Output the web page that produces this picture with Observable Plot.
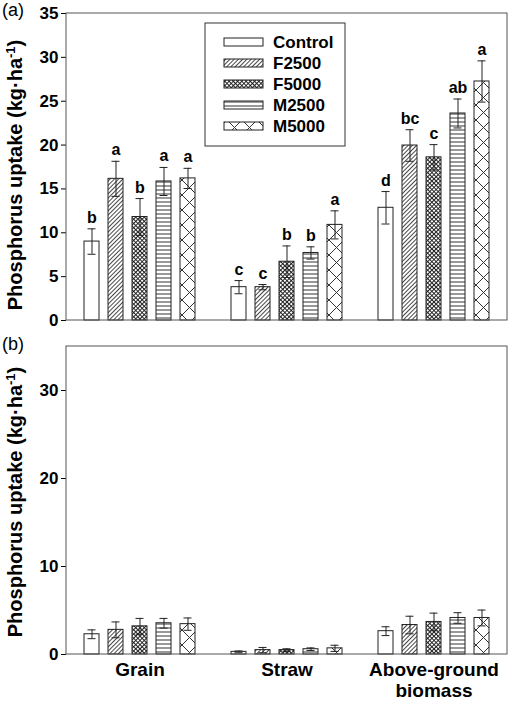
<!DOCTYPE html>
<html><head><meta charset="utf-8">
<script src="https://cdn.jsdelivr.net/npm/d3@7"></script>
<script src="https://cdn.jsdelivr.net/npm/@observablehq/plot@0.6"></script>
<style>
html,body{margin:0;padding:0;background:#fff;}
#chart{position:relative;width:510px;height:701px;}
#chart svg{display:block;}
</style></head><body>
<svg id="defs" width="0" height="0" style="position:absolute">
<defs>
<pattern id="pat-Control" patternUnits="userSpaceOnUse" width="4" height="4"><rect width="4" height="4" fill="#fff"/></pattern>
<pattern id="pat-F2500" patternUnits="userSpaceOnUse" width="3" height="3" patternTransform="rotate(45)"><rect width="3" height="3" fill="#fff"/><line x1="0.5" y1="0" x2="0.5" y2="3" stroke="#333" stroke-width="0.9"/></pattern>
<pattern id="pat-F5000" patternUnits="userSpaceOnUse" width="3" height="3" patternTransform="rotate(45)"><rect width="3" height="3" fill="#fff"/><line x1="0.5" y1="0" x2="0.5" y2="3" stroke="#222" stroke-width="1"/><line x1="0" y1="0.5" x2="3" y2="0.5" stroke="#222" stroke-width="1"/></pattern>
<pattern id="pat-M2500" patternUnits="userSpaceOnUse" width="4" height="4"><rect width="4" height="4" fill="#fff"/><line x1="0" y1="2" x2="4" y2="2" stroke="#333" stroke-width="1"/></pattern>
<pattern id="pat-M5000" patternUnits="userSpaceOnUse" width="15" height="15" x="2"><rect width="15" height="15" fill="#fff"/><line x1="0" y1="0" x2="15" y2="15" stroke="#333" stroke-width="1"/><line x1="15" y1="0" x2="0" y2="15" stroke="#333" stroke-width="1"/></pattern>
</defs></svg>
<div id="chart"></div>
<script>
// ---- data ----
const groups = ["Grain", "Straw", "Above-ground biomass"];
const groupLabels = ["Grain", "Straw", "Above-ground\nbiomass"];
const treatments = ["Control", "F2500", "F5000", "M2500", "M5000"];

// Panel (a)
const grainA = [9.0, 16.15, 11.8, 15.85, 16.2];
const grainAErr = [1.45, 2.0, 2.1, 1.6, 1.15];
const grainALetters = ["b", "a", "b", "a", "a"];
const strawA = [3.8, 3.8, 6.7, 7.7, 10.9];
const strawAErr = [0.75, 0.3, 1.8, 0.7, 1.6];
const strawALetters = ["c", "c", "b", "b", "a"];
const biomassA = [12.85, 19.95, 18.6, 23.6, 27.25];
const biomassAErr = [1.85, 1.8, 1.45, 1.65, 2.35];
const biomassALetters = ["d", "bc", "c", "ab", "a"];

// Panel (b)
const grainB = [2.3, 2.8, 3.2, 3.55, 3.45];
const grainBErr = [0.5, 0.9, 0.9, 0.55, 0.7];
const strawB = [0.3, 0.5, 0.5, 0.6, 0.7];
const strawBErr = [0.1, 0.3, 0.15, 0.15, 0.35];
const biomassB = [2.65, 3.35, 3.7, 4.15, 4.15];
const biomassBErr = [0.5, 1.0, 1.0, 0.6, 0.9];

const yTicksA = [0, 5, 10, 15, 20, 25, 30, 35];
const yTicksB = [0, 10, 20, 30];
const yDomain = [0, 35];
const yTitle = "Phosphorus uptake (kg·ha";
const yTitleSup = "-1";

// ---- build tables ----
function rows(group, values, errs, letters) {
  return treatments.map((t, i) => ({group, treatment: t, value: values[i], err: errs[i], letter: letters ? letters[i] : ""}));
}
const dataA = [
  ...rows(groups[0], grainA, grainAErr, grainALetters),
  ...rows(groups[1], strawA, strawAErr, strawALetters),
  ...rows(groups[2], biomassA, biomassAErr, biomassALetters)
];
const dataB = [
  ...rows(groups[0], grainB, grainBErr),
  ...rows(groups[1], strawB, strawBErr),
  ...rows(groups[2], biomassB, biomassBErr)
];

const FONT = "'Liberation Sans', Arial, Helvetica, sans-serif";
const ML = 66, MR = 3, W = 510;

function panel({data, ticks, height, marginTop, marginBottom, showFx, showLetters}) {
  const marks = [
    Plot.barY(data, {fx: "group", x: "treatment", y: "value", fill: "treatment", stroke: "#222", strokeWidth: 1}),
    Plot.ruleX(data, {fx: "group", x: "treatment", y1: d => d.value - d.err, y2: d => d.value + d.err, stroke: "#222", strokeWidth: 1}),
    Plot.tickY(data, {fx: "group", x: "treatment", y: d => d.value + d.err, insetLeft: 3.5, insetRight: 3.5, stroke: "#222", strokeWidth: 1}),
    Plot.tickY(data, {fx: "group", x: "treatment", y: d => d.value - d.err, insetLeft: 3.5, insetRight: 3.5, stroke: "#222", strokeWidth: 1})
  ];
  if (showLetters) {
    marks.push(Plot.text(data, {fx: "group", x: "treatment", y: d => d.value + d.err, text: "letter", dy: -6, lineAnchor: "bottom", fontSize: 16, fontWeight: "bold", fill: "#000"}));
  }
  if (showFx) {
    marks.push(Plot.axisFx({anchor: "bottom", tickSize: 0, tickPadding: 7, fontSize: 19, fontWeight: "bold", lineHeight: 1.08, label: null,
      tickFormat: g => groupLabels[groups.indexOf(g)]}));
  }
  return Plot.plot({
    width: W, height, marginLeft: ML, marginRight: MR, marginTop, marginBottom,
    style: {fontFamily: FONT, fontWeight: "bold", fontSize: "17px", color: "#000", background: "transparent", overflow: "visible"},
    fx: {domain: groups, padding: 0, label: null, axis: null},
    x: {domain: treatments, paddingInner: 0.39, paddingOuter: 0.695, axis: null},
    y: {domain: yDomain, ticks, tickSize: 5, tickPadding: 3, label: null},
    color: {domain: treatments, range: treatments.map(t => `url(#pat-${t})`)},
    marks
  });
}

function decorate(svgNode, {height, marginTop, marginBottom, tag, tagY, titleY}) {
  const svg = d3.select(svgNode);
  svg.append("rect")
    .attr("x", ML).attr("y", marginTop)
    .attr("width", W - ML - MR).attr("height", height - marginTop - marginBottom)
    .attr("fill", "none").attr("stroke", "#555").attr("stroke-width", 1);
  svg.append("text").attr("x", 2).attr("y", tagY).attr("text-anchor", "start")
    .attr("font-family", FONT).attr("font-size", 18).attr("font-weight", "normal").attr("fill", "#000")
    .text(tag);
  const t = svg.append("text")
    .attr("transform", `translate(22,${titleY}) rotate(-90)`)
    .attr("text-anchor", "middle")
    .attr("font-family", FONT).attr("font-size", 20).attr("font-weight", "bold").attr("fill", "#000");
  t.append("tspan").text(yTitle);
  t.append("tspan").attr("dy", -7).attr("font-size", 13).text(yTitleSup);
  t.append("tspan").attr("dy", 7).text(")");
  return svg;
}

const chart = document.getElementById("chart");

const optA = {data: dataA, ticks: yTicksA, height: 330, marginTop: 13, marginBottom: 10, showFx: false, showLetters: true};
const plotA = panel(optA);
chart.appendChild(plotA);
const svgA = decorate(plotA, {height: 330, marginTop: 13, marginBottom: 10, tag: "(a)", tagY: 16, titleY: 175});

// legend inside panel (a)
const lg = svgA.append("g");
lg.append("rect").attr("x", 205).attr("y", 23).attr("width", 140).attr("height", 123)
  .attr("fill", "#fff").attr("stroke", "#333").attr("stroke-width", 1);
treatments.forEach((t, i) => {
  const cy = 42 + i * 21;
  lg.append("rect").attr("x", 224).attr("y", cy - 4).attr("width", 39).attr("height", 8)
    .attr("fill", `url(#pat-${t})`).attr("stroke", "#222").attr("stroke-width", 1);
  lg.append("text").attr("x", 273).attr("y", cy).attr("dy", "0.36em").attr("text-anchor", "start")
    .attr("font-family", FONT).attr("font-size", 17).attr("font-weight", "bold").attr("fill", "#000")
    .text(t);
});

const optB = {data: dataB, ticks: yTicksB, height: 371, marginTop: 16, marginBottom: 47, showFx: true, showLetters: false};
const plotB = panel(optB);
chart.appendChild(plotB);
decorate(plotB, {height: 371, marginTop: 16, marginBottom: 47, tag: "(b)", tagY: 20, titleY: 172});
</script>
</body></html>
